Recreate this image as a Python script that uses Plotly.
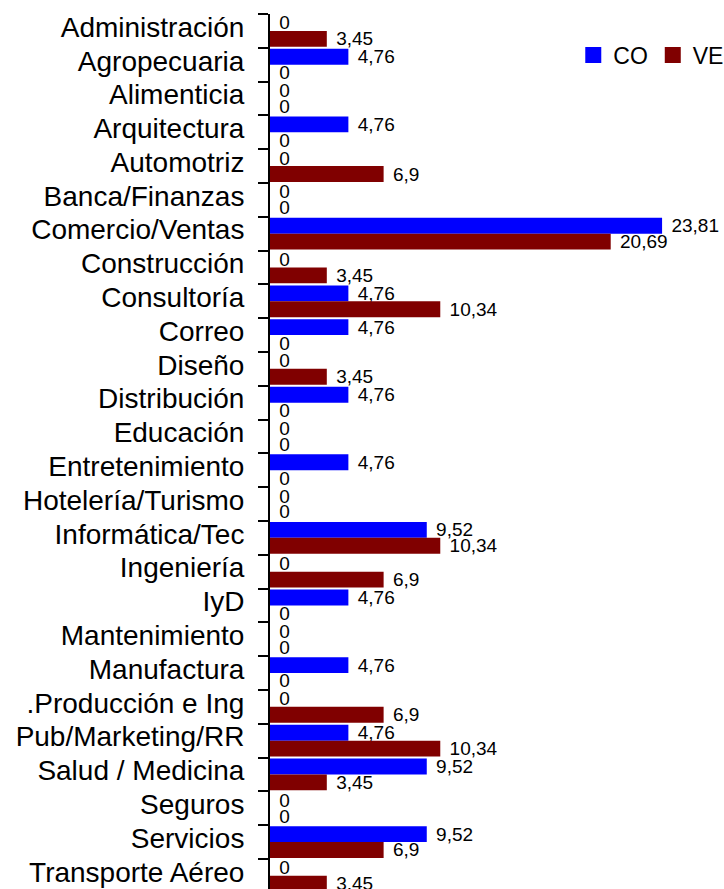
import plotly.graph_objects as go

categories = [
    "Administración", "Agropecuaria", "Alimenticia", "Arquitectura", "Automotriz",
    "Banca/Finanzas", "Comercio/Ventas", "Construcción", "Consultoría", "Correo",
    "Diseño", "Distribución", "Educación", "Entretenimiento", "Hotelería/Turismo",
    "Informática/Tec", "Ingeniería", "IyD", "Mantenimiento", "Manufactura",
    ".Producción e Ing", "Pub/Marketing/RR", "Salud / Medicina", "Seguros",
    "Servicios", "Transporte Aéreo",
]
co_values = [0, 4.76, 0, 4.76, 0, 0, 23.81, 0, 4.76, 4.76, 0, 4.76, 0, 4.76, 0,
             9.52, 0, 4.76, 0, 4.76, 0, 4.76, 9.52, 0, 9.52, 0]
ve_values = [3.45, 0, 0, 0, 6.9, 0, 20.69, 3.45, 10.34, 0, 3.45, 0, 0, 0, 0,
             10.34, 6.9, 0, 0, 0, 6.9, 10.34, 3.45, 0, 6.9, 3.45]
series_names = ["CO", "VE"]
series_colors = ["#0000FF", "#800000"]

FONT = "Liberation Sans, Arial, sans-serif"


def fmt(v):
    s = ("%g" % v).replace(".", ",")
    return "\u2004" + s


fig = go.Figure()
for name, vals, col in zip(series_names, [co_values, ve_values], series_colors):
    fig.add_trace(go.Bar(
        y=categories, x=vals, orientation="h", name=name,
        marker=dict(color=col, line=dict(width=0)),
        text=[fmt(v) for v in vals], textposition="outside",
        textfont=dict(family=FONT, size=19, color="#000000"),
        constraintext="none", cliponaxis=False, showlegend=False,
    ))
    # legend entry with a larger square swatch
    fig.add_trace(go.Scatter(
        x=[None], y=[None], mode="markers", name=name,
        marker=dict(symbol="square", size=16, color=col),
        showlegend=True,
    ))

fig.update_layout(
    width=724, height=889,
    margin=dict(l=270, r=0, t=14, b=0, autoexpand=False),
    paper_bgcolor="white", plot_bgcolor="white",
    barmode="group", bargap=0.06, bargroupgap=0,
    showlegend=True,
    legend=dict(orientation="h", x=0.668, y=0.953, xanchor="left", yanchor="middle",
                font=dict(family=FONT, size=23, color="#000000"),
                bgcolor="rgba(0,0,0,0)", itemwidth=30, tracegroupgap=0),
    font=dict(family=FONT, color="#000000"),
    xaxis=dict(range=[0, 27.57], showgrid=False, zeroline=False, showticklabels=False,
               showline=False, ticks="", automargin=False),
    yaxis=dict(type="category", categoryorder="array", categoryarray=categories,
               range=[25.39, -0.5], showgrid=False, zeroline=False,
               tickmode="linear", tick0=0, dtick=1, automargin=False,
               showline=True, linecolor="#000000", linewidth=2,
               ticks="outside", tickson="boundaries", ticklen=10, tickwidth=2,
               tickcolor="#000000", ticklabelstandoff=18, ticklabelshift=4,
               tickfont=dict(family=FONT, size=28, color="#000000")),
)

fig.write_html("out.html", config={"displayModeBar": False},
               post_script="document.body.style.margin='0';")
